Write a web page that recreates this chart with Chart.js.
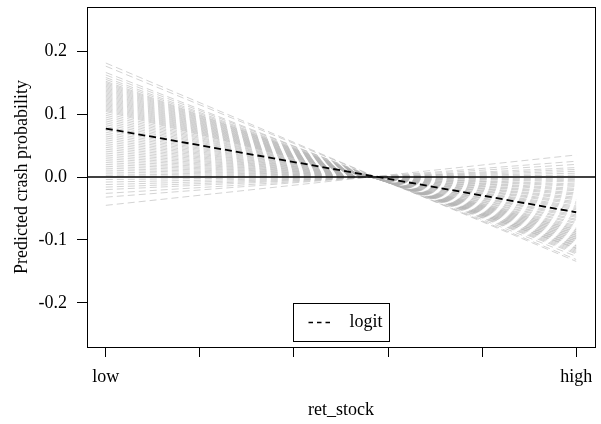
<!DOCTYPE html>
<html>
<head>
    <title>Predicted crash probability</title>
    <style>
        body { margin: 0; background: #fff; }
    </style>
</head>
<body>
<canvas id="crashChart" width="601" height="424"></canvas>

<script src="https://cdn.jsdelivr.net/npm/chart.js"></script>
<script>
    // x positions of the two ends of every line (low .. high)
    const xEnds = [0, 1];
    const xTicks = [0, 0.2, 0.4, 0.6, 0.8, 1];
    const xTickLabels = ['low', '', '', '', '', 'high'];
    const yTicks = [-0.2, -0.1, 0, 0.1, 0.2];

    // logit estimate at low / high ret_stock
    const logitValues = [0.077, -0.056];

    // gray sensitivity lines: value at "low" and value at "high"
    const grayLow = [
        0.181, 0.176, 0.166, 0.162, 0.158, 0.155, 0.152, 0.150, 0.148, 0.146,
        0.144, 0.142, 0.140, 0.138, 0.136, 0.134, 0.132, 0.130, 0.128, 0.126,
        0.124, 0.122, 0.120, 0.118, 0.116, 0.114, 0.112, 0.110, 0.108, 0.106,
        0.104, 0.101, 0.098, 0.095, 0.092, 0.089, 0.086, 0.083, 0.080, 0.077,
        0.074, 0.071, 0.068, 0.065, 0.062, 0.059, 0.056, 0.053, 0.050, 0.047,
        0.044, 0.041, 0.038, 0.035, 0.032, 0.029, 0.026, 0.023, 0.020, 0.017,
        0.014, 0.011, 0.008, 0.005, 0.002, -0.004, -0.008, -0.012, -0.016, -0.020,
        -0.026, -0.032, -0.045
    ];
    const grayHigh = [
        -0.134, -0.131, -0.126, -0.122, -0.120, -0.118, -0.116, -0.114, -0.113, -0.112,
        -0.110, -0.109, -0.108, -0.106, -0.105, -0.104, -0.102, -0.101, -0.099, -0.098,
        -0.096, -0.095, -0.093, -0.092, -0.090, -0.089, -0.087, -0.086, -0.084, -0.083,
        -0.081, -0.079, -0.077, -0.074, -0.072, -0.069, -0.067, -0.064, -0.062, -0.060,
        -0.057, -0.055, -0.052, -0.050, -0.048, -0.046, -0.043, -0.041, -0.039, -0.036,
        -0.034, -0.032, -0.029, -0.027, -0.025, -0.022, -0.020, -0.018, -0.015, -0.013,
        -0.011, -0.008, -0.006, -0.004, -0.002, 0.003, 0.006, 0.009, 0.012, 0.015,
        0.020, 0.025, 0.035
    ];

    const serif = "'Liberation Serif', 'DejaVu Serif', serif";

    let datasets = [];
    grayLow.forEach((v, i) => {
        datasets.push({
            label: 'sim' + i,
            data: [{x: xEnds[0], y: v}, {x: xEnds[1], y: grayHigh[i]}],
            borderColor: 'rgba(175,175,175,0.55)',
            borderWidth: 1,
            borderDash: [7, 4],
            pointRadius: 0,
            order: 3
        })
    });
    datasets.push({
        label: 'zero',
        data: [{x: -0.04, y: 0}, {x: 1.04, y: 0}],
        borderColor: '#000',
        borderWidth: 1.7,
        pointRadius: 0,
        order: 2
    });
    datasets.push({
        label: 'logit',
        data: [{x: xEnds[0], y: logitValues[0]}, {x: xEnds[1], y: logitValues[1]}],
        borderColor: '#000',
        borderWidth: 1.8,
        borderDash: [7, 4],
        pointRadius: 0,
        order: 1
    });

    // R style box around the plot region plus the "bottom" legend
    const boxAndLegend = {
        id: 'boxAndLegend',
        afterDraw(chart) {
            const {ctx, chartArea: a} = chart;
            ctx.save();
            ctx.strokeStyle = '#000';
            ctx.lineWidth = 1;
            ctx.setLineDash([]);
            ctx.strokeRect(a.left + 0.5, a.top + 0.5, a.right - a.left, a.bottom - a.top);

            const cx = (a.left + a.right) / 2;
            const w = 96, h = 38;
            const bx = Math.round(cx - w / 2) + 0.5;
            const by = Math.round(a.bottom - 6 - h) + 0.5;
            ctx.strokeRect(bx, by, w, h);
            const ly = by + h / 2;
            ctx.beginPath();
            ctx.setLineDash([4.5, 4]);
            ctx.lineWidth = 1.5;
            ctx.moveTo(bx + 15, ly);
            ctx.lineTo(bx + 40, ly);
            ctx.stroke();
            ctx.setLineDash([]);
            ctx.fillStyle = '#000';
            ctx.font = '18px ' + serif;
            ctx.textBaseline = 'middle';
            ctx.textAlign = 'left';
            ctx.fillText('logit', bx + 56, ly);
            ctx.restore();
        }
    };

    const chart = new Chart(document.getElementById('crashChart'), {
        type: 'line',
        data: {datasets},
        options: {
            responsive: false,
            animation: false,
            layout: {padding: {top: 7, right: 6, left: 0, bottom: 0}},
            plugins: {legend: {display: false}, tooltip: {enabled: false}},
            scales: {
                x: {
                    type: 'linear',
                    min: -0.04,
                    max: 1.04,
                    afterBuildTicks: s => { s.ticks = xTicks.map(v => ({value: v})); },
                    afterFit: s => { s.height = 77; s.paddingLeft = 0; s.paddingRight = 0; },
                    grid: {drawOnChartArea: false, drawTicks: true, tickLength: 10, color: '#000'},
                    border: {display: true, color: '#000'},
                    ticks: {
                        padding: 9,
                        color: '#000',
                        font: {family: serif, size: 18},
                        maxRotation: 0,
                        autoSkip: false,
                        callback: v => xTickLabels[xTicks.indexOf(v)] ?? ''
                    },
                    title: {
                        display: true,
                        text: 'ret_stock',
                        color: '#000',
                        font: {family: serif, size: 18},
                        padding: {top: 0, bottom: 3}
                    }
                },
                y: {
                    min: -0.27,
                    max: 0.27,
                    afterBuildTicks: s => { s.ticks = yTicks.map(v => ({value: v})); },
                    afterFit: s => { s.width = 87; s.paddingTop = 0; s.paddingBottom = 0; },
                    grid: {drawOnChartArea: false, drawTicks: true, tickLength: 10, color: '#000'},
                    border: {display: true, color: '#000'},
                    ticks: {
                        padding: 10,
                        color: '#000',
                        font: {family: serif, size: 18},
                        callback: v => v.toFixed(1)
                    },
                    title: {
                        display: true,
                        text: 'Predicted crash probability',
                        color: '#000',
                        font: {family: serif, size: 18},
                        padding: {top: 11, bottom: 0}
                    }
                }
            }
        },
        plugins: [boxAndLegend]
    });
</script>
</body>
</html>
